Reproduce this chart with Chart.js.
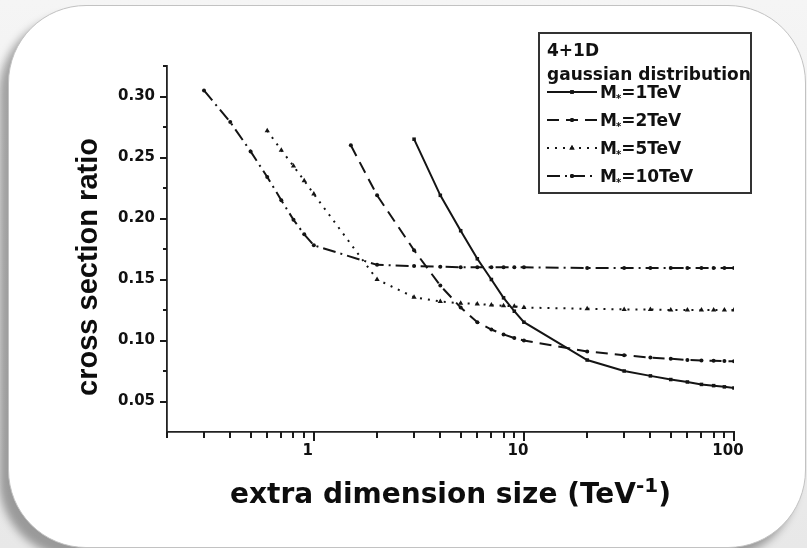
<!DOCTYPE html>
<html>
<head>
<meta charset="utf-8">
<script src="https://cdn.jsdelivr.net/npm/chart.js@4.4.1/dist/chart.umd.min.js"></script>
<style>
html, body { margin: 0; padding: 0; }
body { width: 807px; height: 548px; overflow: hidden; position: relative; background: linear-gradient(#f5f5f5, #e8e8e8); }
#card { position: absolute; left: 8px; top: 5px; width: 798px; height: 543px; box-sizing: border-box;
        background: #fff; border: 1px solid #c2c2c2; border-radius: 78px; box-shadow: -9px 10px 8px rgba(0,0,0,0.34); }
#myChart { position: absolute; left: 0; top: 0; }
</style>
</head>
<body>
<div id="card"></div>
<canvas id="myChart" width="807" height="548"></canvas>
<script>
// tamaño de la dimension extra (TeV^-1) para cada serie
const sizes1 = [3, 4, 5, 6, 7, 8, 9, 10, 20, 30, 40, 50, 60, 70, 80, 90, 100];
const sizes2 = [1.5, 2, 3, 4, 5, 6, 7, 8, 9, 10, 20, 30, 40, 50, 60, 70, 80, 90, 100];
const sizes5 = [0.6, 0.7, 0.8, 0.9, 1, 2, 3, 4, 5, 6, 7, 8, 9, 10, 20, 30, 40, 50, 60, 70, 80, 90, 100];
const sizes10 = [0.3, 0.4, 0.5, 0.6, 0.7, 0.8, 0.9, 1, 2, 3, 4, 5, 6, 7, 8, 9, 10, 20, 30, 40, 50, 60, 70, 80, 90, 100];

// cross section ratio
const ratio1 = [0.265, 0.219, 0.190, 0.167, 0.150, 0.135, 0.124, 0.115, 0.084, 0.075, 0.071, 0.068, 0.066, 0.064, 0.063, 0.062, 0.061];
const ratio2 = [0.260, 0.219, 0.174, 0.145, 0.127, 0.115, 0.109, 0.105, 0.102, 0.100, 0.091, 0.088, 0.086, 0.085, 0.084, 0.0837, 0.0834, 0.0831, 0.083];
const ratio5 = [0.272, 0.256, 0.243, 0.231, 0.220, 0.150, 0.1355, 0.132, 0.1305, 0.130, 0.129, 0.1285, 0.128, 0.127, 0.126, 0.1255, 0.1255, 0.125, 0.125, 0.125, 0.125, 0.125, 0.125];
const ratio10 = [0.305, 0.279, 0.255, 0.234, 0.215, 0.199, 0.187, 0.178, 0.162, 0.161, 0.1605, 0.160, 0.160, 0.160, 0.160, 0.160, 0.160, 0.1595, 0.1595, 0.1595, 0.1595, 0.1595, 0.1595, 0.1595, 0.1595, 0.1595];

// etiquetas y marcas de los ejes
const legendTitle = ['4+1D', 'gaussian distribution'];
const masses = ['1TeV', '2TeV', '5TeV', '10TeV'];
const xTitle = 'extra dimension size (TeV';
const yTitle = 'cross section ratio';
const xTickLabels = [1, 10, 100];
const xMinorTicks = [0.2, 0.3, 0.4, 0.5, 0.6, 0.7, 0.8, 0.9, 2, 3, 4, 5, 6, 7, 8, 9, 20, 30, 40, 50, 60, 70, 80, 90];
const yTickLabels = [0.05, 0.10, 0.15, 0.20, 0.25, 0.30];
const yMinorTicks = [0.075, 0.125, 0.175, 0.225, 0.275, 0.325];

const ink = '#141414';
const estilos = [
  { dash: [], point: 'rect', radius: 2.5 },
  { dash: [12, 7], point: 'circle', radius: 2 },
  { dash: [2, 6], point: 'triangle', radius: 3 },
  { dash: [13, 5, 2, 5], point: 'circle', radius: 2 }
];

function puntos(xs, ys) { return xs.map((x, i) => ({ x: x, y: ys[i] })); }
const series = [puntos(sizes1, ratio1), puntos(sizes2, ratio2), puntos(sizes5, ratio5), puntos(sizes10, ratio10)];

const datasets = series.map((d, i) => ({
  label: 'M*=' + masses[i],
  data: d,
  borderColor: ink,
  backgroundColor: ink,
  borderWidth: 2,
  borderDash: estilos[i].dash,
  pointStyle: estilos[i].point,
  pointRadius: estilos[i].radius,
  pointBorderWidth: 0,
  pointBackgroundColor: ink,
  tension: 0
}));

/* Plugin que dibuja ticks mayores/menores, titulos de ejes y la leyenda */
const dekor = {
  id: 'dekor',
  afterDraw(chart) {
    const ctx = chart.ctx;
    const a = chart.chartArea;
    const sx = chart.scales.x, sy = chart.scales.y;
    const yAxis = sx.top;
    ctx.save();
    ctx.fillStyle = '#1a1a1a';
    // ticks eje x
    xTickLabels.concat(xMinorTicks).forEach((v, i) => {
      const px = Math.round(sx.getPixelForValue(v));
      const len = i < xTickLabels.length ? 9 : 6;
      ctx.fillRect(px - 1, yAxis, 2, len);
    });
    // ticks eje y
    yTickLabels.concat(yMinorTicks).forEach((v, i) => {
      const py = Math.round(sy.getPixelForValue(v));
      const len = i < yTickLabels.length ? 7 : 4;
      ctx.fillRect(a.left - len, py - 1, len, 2);
    });

    // titulo eje y
    ctx.fillStyle = '#0d0d0d';
    ctx.save();
    ctx.translate(a.left - 78, a.top + 201);
    ctx.rotate(-Math.PI / 2);
    ctx.font = 'bold 29px "Liberation Sans", Arial, sans-serif';
    ctx.textAlign = 'center';
    ctx.textBaseline = 'middle';
    ctx.fillText(yTitle, 0, 0);
    ctx.restore();

    // titulo eje x con superindice
    const fMain = 'bold 28px "DejaVu Sans", sans-serif';
    const fSup = 'bold 20px "DejaVu Sans", sans-serif';
    ctx.font = fMain;
    const w1 = ctx.measureText(xTitle).width;
    const w3 = ctx.measureText(')').width;
    ctx.font = fSup;
    const w2 = ctx.measureText('-1').width;
    let x0 = (a.left + a.right) / 2 - (w1 + w2 + w3) / 2;
    const base = a.bottom + 71;
    ctx.textAlign = 'left';
    ctx.textBaseline = 'alphabetic';
    ctx.font = fMain; ctx.fillText(xTitle, x0, base);
    ctx.font = fSup; ctx.fillText('-1', x0 + w1, base - 11);
    ctx.font = fMain; ctx.fillText(')', x0 + w1 + w2, base);

    // leyenda
    const lx = a.right - 195, ly = a.top - 33;
    ctx.strokeStyle = '#333';
    ctx.lineWidth = 2;
    ctx.strokeRect(lx, ly, 212, 160);
    ctx.fillStyle = '#111';
    ctx.font = 'bold 17px "DejaVu Sans", sans-serif';
    ctx.fillText(legendTitle[0], lx + 8, ly + 23);
    ctx.fillText(legendTitle[1], lx + 8, ly + 47);
    masses.forEach((m, i) => {
      const yb = ly + 65 + i * 28;
      const ym = yb - 6;
      ctx.strokeStyle = ink;
      ctx.lineWidth = 2;
      ctx.setLineDash(estilos[i].dash);
      ctx.beginPath(); ctx.moveTo(lx + 8, ym); ctx.lineTo(lx + 58, ym); ctx.stroke();
      ctx.setLineDash([]);
      Chart.helpers.drawPoint(ctx, { pointStyle: estilos[i].point, radius: estilos[i].radius, rotation: 0, borderWidth: 0 }, lx + 33, ym);
      ctx.fillStyle = ink; ctx.fill();
      ctx.fillStyle = '#111';
      ctx.font = 'bold 17px "DejaVu Sans", sans-serif';
      let tx = lx + 61;
      ctx.fillText('M', tx, yb);
      tx += ctx.measureText('M').width;
      ctx.font = 'bold 10px "DejaVu Sans", sans-serif';
      ctx.fillText('*', tx - 1, yb + 4);
      tx += ctx.measureText('*').width - 1;
      ctx.font = 'bold 17px "DejaVu Sans", sans-serif';
      ctx.fillText('=' + m, tx, yb);
    });
    ctx.restore();
  }
};

const config = {
  type: 'line',
  data: { datasets: datasets },
  options: {
    responsive: false,
    animation: false,
    layout: { padding: { left: 0, top: 66, right: 73, bottom: 0 } },
    plugins: { legend: { display: false }, tooltip: { enabled: false } },
    scales: {
      x: {
        type: 'logarithmic',
        min: 0.2,
        max: 100,
        afterFit: s => { s.height = 116; },
        border: { display: true, color: '#222', width: 1.8 },
        grid: { display: false, drawTicks: true, tickLength: 8 },
        ticks: {
          autoSkip: false,
          maxRotation: 0,
          padding: 2,
          labelOffset: -6,
          color: '#111',
          font: { family: '"DejaVu Sans", sans-serif', size: 15, weight: 'bold' },
          callback: v => xTickLabels.some(t => Math.abs(t - v) < 1e-9) ? String(v) : ''
        }
      },
      y: {
        type: 'linear',
        min: 0.025,
        max: 0.325,
        afterFit: s => { s.width = 167; },
        border: { display: true, color: '#222', width: 1.8 },
        grid: { display: false, drawTicks: true, tickLength: 7 },
        ticks: {
          stepSize: 0.025,
          autoSkip: false,
          padding: 5,
          color: '#111',
          font: { family: '"DejaVu Sans", sans-serif', size: 15, weight: 'bold' },
          callback: v => {
            const t = yTickLabels.find(l => Math.abs(l - v) < 1e-6);
            return t === undefined ? '' : t.toFixed(2);
          }
        }
      }
    }
  },
  plugins: [dekor]
};

const myChart = new Chart(document.getElementById('myChart'), config);
</script>
</body>
</html>
